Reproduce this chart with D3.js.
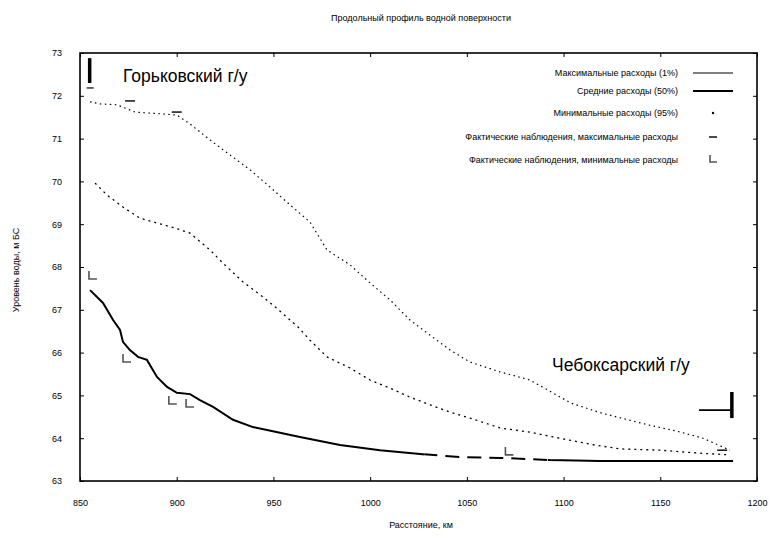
<!DOCTYPE html>
<html lang="ru">
<head>
<meta charset="utf-8">
<script src="https://cdn.jsdelivr.net/npm/d3@7"></script>
<style>
  html, body { margin: 0; padding: 0; background: #fff; }
  svg { display: block; font-family: "Liberation Sans", Arial, sans-serif; }
</style>
</head>
<body>
<svg id="chart" width="776" height="547"></svg>
<script>
// Water surface profiles of the Volga between the Gorky and Cheboksary dams
const titleText = "Продольный профиль водной поверхности";
const xTitle = "Расстояние, км";
const yTitle = "Уровень воды, м БС";

const xTicks = [850, 900, 950, 1000, 1050, 1100, 1150, 1200];
const yTicks = [63, 64, 65, 66, 67, 68, 69, 70, 71, 72, 73];

// Maximum discharge profile: [km, level]
const maxProfile = [
  [855.2, 71.86], [860.3, 71.81], [869.1, 71.79], [878.4, 71.62], [891.4, 71.58],
  [900.1, 71.55], [906.9, 71.34], [917.2, 70.97], [927.5, 70.62], [937.9, 70.27],
  [948.2, 69.87], [958.6, 69.45], [968.9, 69.05], [977.7, 68.40], [989.6, 68.05],
  [999.9, 67.63], [1010.3, 67.23], [1020.6, 66.76], [1030.9, 66.41], [1041.3, 66.06],
  [1051.6, 65.78], [1067.1, 65.55], [1082.6, 65.36], [1103.8, 64.82], [1119.4, 64.59],
  [1133.3, 64.43], [1145.7, 64.29], [1158.1, 64.17], [1172.1, 64.00], [1186.0, 63.72]
];

// Mean discharge profile
const meanProfile = [
  [857.8, 69.96], [864.0, 69.68], [872.2, 69.40], [881.0, 69.14], [899.1, 68.91],
  [906.9, 68.79], [917.2, 68.40], [923.9, 68.09], [934.3, 67.65], [944.6, 67.30],
  [950.8, 67.07], [962.7, 66.60], [968.9, 66.29], [977.7, 65.90], [989.6, 65.64],
  [999.9, 65.36], [1010.3, 65.17], [1020.6, 64.96], [1030.9, 64.78], [1041.3, 64.61],
  [1051.6, 64.47], [1067.1, 64.24], [1082.6, 64.14], [1102.3, 63.96], [1116.2, 63.84],
  [1129.2, 63.75], [1149.9, 63.72], [1170.5, 63.65], [1186.0, 63.61]
];

// Minimum discharge profile
const minProfile = [
  [855.2, 67.46], [861.9, 67.16], [867.1, 66.76], [870.7, 66.53], [872.2, 66.25],
  [875.8, 66.06], [880.0, 65.90], [884.6, 65.83], [889.8, 65.43], [895.0, 65.20],
  [900.1, 65.06], [906.9, 65.03], [912.0, 64.89], [918.8, 64.73], [929.1, 64.43],
  [939.4, 64.26], [946.7, 64.19], [963.7, 64.03], [984.4, 63.84], [1005.1, 63.72],
  [1025.8, 63.63], [1046.5, 63.56], [1067.1, 63.54], [1093.0, 63.49], [1118.8, 63.47],
  [1144.7, 63.47], [1170.5, 63.47], [1187.6, 63.47]
];
// Reach (km) where the minimum profile is drawn broken
const minBrokenReach = [1028, 1092];

// Observed levels
const obsMax = [[875.9, 71.88], [900.0, 71.62], [1182.0, 63.72]];
const obsMin = [[856.7, 67.65], [874.3, 65.71], [898.0, 64.73], [906.9, 64.66], [1072.0, 63.54]];

// Dam sites: km, level span of the bar
const dams = [
  { name: "Горьковский г/у", km: 855, low: 72.30, high: 72.88, tail: 0 },
  { name: "Чебоксарский г/у", km: 1187, low: 64.47, high: 65.08, tail: 17 }
];

const legendItems = [
  { label: "Максимальные расходы (1%)", kind: "line", width: 1 },
  { label: "Средние расходы (50%)", kind: "line", width: 2 },
  { label: "Минимальные расходы (95%)", kind: "dot" },
  { label: "Фактические наблюдения, максимальные расходы", kind: "dash" },
  { label: "Фактические наблюдения, минимальные расходы", kind: "corner" }
];

const svg = d3.select("#chart");
const m = { left: 80, top: 53, right: 757, bottom: 481 };

const x = d3.scaleLinear().domain([850, 1200]).range([m.left, m.right]);
const y = d3.scaleLinear().domain([63, 73]).range([m.bottom, m.top]);

// Title and axis titles
svg.append("text").attr("x", 421).attr("y", 21).attr("text-anchor", "middle")
  .attr("font-size", 9).text(titleText);
svg.append("text").attr("x", 421).attr("y", 528).attr("text-anchor", "middle")
  .attr("font-size", 9).text(xTitle);
svg.append("text").attr("transform", "translate(19,270) rotate(-90)")
  .attr("text-anchor", "middle").attr("font-size", 9).text(yTitle);

// Axes with inward ticks
const axB = svg.append("g").attr("transform", `translate(0,${m.bottom})`)
  .call(d3.axisBottom(x).tickValues(xTicks).tickSize(-4).tickPadding(19).tickFormat(d3.format("d")));
const axT = svg.append("g").attr("transform", `translate(0,${m.top})`)
  .call(d3.axisTop(x).tickValues(xTicks).tickSize(-4).tickFormat(""));
const axL = svg.append("g").attr("transform", `translate(${m.left},0)`)
  .call(d3.axisLeft(y).tickValues(yTicks).tickSize(-4).tickPadding(18).tickFormat(d3.format("d")));
const axR = svg.append("g").attr("transform", `translate(${m.right},0)`)
  .call(d3.axisRight(y).tickValues(yTicks).tickSize(-4).tickFormat(""));
[axB, axT, axL, axR].forEach(g => {
  g.select(".domain").remove();
  g.selectAll("line").attr("stroke", "#000").attr("stroke-width", 1);
  g.selectAll("text").attr("font-size", 9).attr("fill", "#000")
    .attr("font-family", "Liberation Sans, Arial, sans-serif");
});

// Frame
svg.append("rect").attr("x", m.left).attr("y", m.top)
  .attr("width", m.right - m.left).attr("height", m.bottom - m.top)
  .attr("fill", "none").attr("stroke", "#000").attr("stroke-width", 1.6);

const line = d3.line().x(d => x(d[0])).y(d => y(d[1]));

svg.append("path").datum(maxProfile).attr("d", line)
  .attr("fill", "none").attr("stroke", "#000").attr("stroke-width", 1.2)
  .attr("stroke-dasharray", "1.5,3.5");
svg.append("path").datum(meanProfile).attr("d", line)
  .attr("fill", "none").attr("stroke", "#000").attr("stroke-width", 1.3)
  .attr("stroke-dasharray", "2,4");

// Minimum profile: solid outside the broken reach, long dashes inside it
const defs = svg.append("defs");
defs.append("clipPath").attr("id", "solidL").append("rect")
  .attr("x", 0).attr("y", 0).attr("width", x(minBrokenReach[0])).attr("height", 547);
defs.append("clipPath").attr("id", "solidR").append("rect")
  .attr("x", x(minBrokenReach[1])).attr("y", 0).attr("width", 776 - x(minBrokenReach[1])).attr("height", 547);
defs.append("clipPath").attr("id", "broken").append("rect")
  .attr("x", x(minBrokenReach[0])).attr("y", 0)
  .attr("width", x(minBrokenReach[1]) - x(minBrokenReach[0])).attr("height", 547);
["solidL", "solidR"].forEach(id => {
  svg.append("path").datum(minProfile).attr("d", line).attr("clip-path", `url(#${id})`)
    .attr("fill", "none").attr("stroke", "#000").attr("stroke-width", 2);
});
svg.append("path").datum(minProfile).attr("d", line).attr("clip-path", "url(#broken)")
  .attr("fill", "none").attr("stroke", "#000").attr("stroke-width", 2)
  .attr("stroke-dasharray", "14,8");

// Observation markers
const dash = d3.path(); dash.moveTo(-5, 0); dash.lineTo(5, 0);
const corner = "M-4,-5 L-4,3 L4,3";
svg.append("g").selectAll("path").data(obsMax).join("path")
  .attr("transform", d => `translate(${x(d[0])},${y(d[1])})`)
  .attr("d", dash.toString()).attr("stroke", "#000").attr("stroke-width", 1.4);
svg.append("g").selectAll("path").data(obsMin).join("path")
  .attr("transform", d => `translate(${x(d[0])},${y(d[1]) - 6})`)
  .attr("d", corner).attr("fill", "none").attr("stroke", "#555").attr("stroke-width", 1.6);

// Dam symbols and names
dams.forEach(dm => {
  const cx = x(dm.km);
  svg.append("line").attr("x1", cx).attr("x2", cx).attr("y1", y(dm.high)).attr("y2", y(dm.low))
    .attr("stroke", "#000").attr("stroke-width", 3.5);
  if (dm.tail > 0) {
    const ym = y((dm.low + dm.high) / 2 - 0.12);
    svg.append("line").attr("x1", x(dm.km - dm.tail)).attr("x2", cx).attr("y1", ym).attr("y2", ym)
      .attr("stroke", "#000").attr("stroke-width", 1.6);
  } else {
    svg.append("line").attr("x1", cx - 3).attr("x2", cx + 4).attr("y1", y(dm.low) + 5).attr("y2", y(dm.low) + 5)
      .attr("stroke", "#000").attr("stroke-width", 1.2);
  }
});
svg.append("text").attr("x", 123).attr("y", 82).attr("font-size", 17.5).text(dams[0].name);
svg.append("text").attr("x", 552).attr("y", 371).attr("font-size", 17.5).text(dams[1].name);

// Legend
const lg = svg.append("g");
const rowY = [73, 91, 113, 137, 160];
legendItems.forEach((it, i) => {
  const ry = rowY[i];
  lg.append("text").attr("x", 678).attr("y", ry + 3).attr("text-anchor", "end")
    .attr("font-size", 9).text(it.label);
  if (it.kind === "line") {
    lg.append("line").attr("x1", 693).attr("x2", 733).attr("y1", ry).attr("y2", ry)
      .attr("stroke", "#000").attr("stroke-width", it.width);
  } else if (it.kind === "dot") {
    lg.append("circle").attr("cx", 713).attr("cy", ry).attr("r", 1.2).attr("fill", "#000");
  } else if (it.kind === "dash") {
    lg.append("line").attr("x1", 709).attr("x2", 717).attr("y1", ry).attr("y2", ry)
      .attr("stroke", "#000").attr("stroke-width", 1.4);
  } else {
    lg.append("path").attr("d", `M710,${ry - 5} L710,${ry + 2} L717,${ry + 2}`)
      .attr("fill", "none").attr("stroke", "#555").attr("stroke-width", 1.6);
  }
});
</script>
</body>
</html>
